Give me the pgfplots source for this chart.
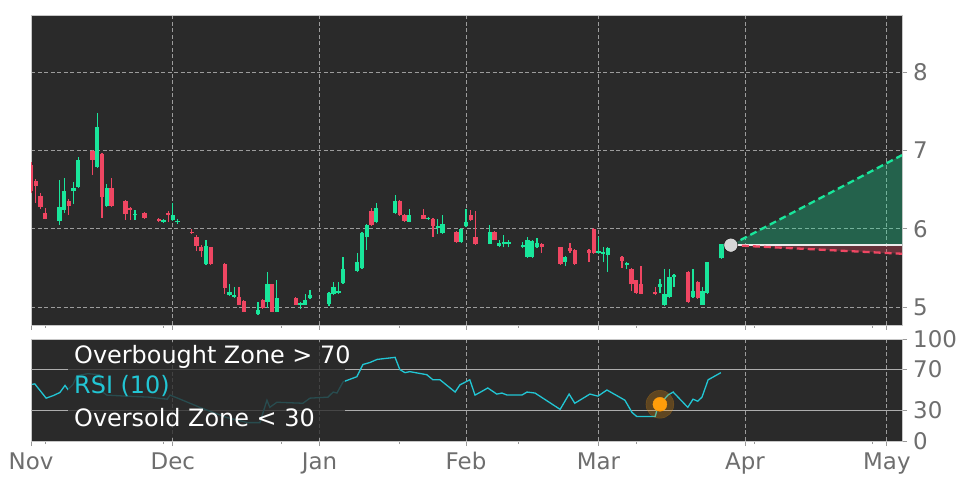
\documentclass[border=0pt]{standalone}
\usepackage{pgfplots}
\pgfplotsset{compat=1.18}
\usepackage{pgfplotstable}
\usepackage{fontspec}
\setmainfont{DejaVu Sans}

\definecolor{bgc}{HTML}{2A2A2A}
\definecolor{upc}{HTML}{19E69B}
\definecolor{dnc}{HTML}{EF4662}
\definecolor{tickc}{HTML}{6E6E6E}
\definecolor{gridc}{HTML}{9C9C9C}
\definecolor{rsic}{HTML}{22C6D4}
\definecolor{orc}{HTML}{FF9D0A}

% day 0 = 1 Nov; columns: day open high low close
\pgfplotstableread{
d o h l c
6 6.10 6.62 6.05 6.28
7 6.24 6.65 6.20 6.48
9 6.48 6.60 6.32 6.52
10 6.53 6.92 6.52 6.88
14 6.79 7.48 6.78 7.30
16 6.29 6.57 6.28 6.52
22 6.17 6.24 6.11 6.19
28 6.09 6.12 6.07 6.11
30 6.11 6.33 6.10 6.18
31 6.08 6.12 6.06 6.09
37 5.55 5.85 5.54 5.78
42 5.15 5.30 5.14 5.19
43 5.13 5.25 5.12 5.14
48 4.91 5.06 4.90 4.96
50 5.07 5.45 4.99 5.29
52 4.94 5.34 4.93 5.12
57 5.03 5.07 4.97 5.04
58 5.03 5.16 5.02 5.09
59 5.11 5.22 5.10 5.15
63 5.04 5.19 5.01 5.18
64 5.16 5.32 5.15 5.26
65 5.18 5.32 5.17 5.21
66 5.31 5.64 5.30 5.48
69 5.46 5.69 5.45 5.58
70 5.50 5.96 5.49 5.95
71 5.90 6.06 5.73 6.05
73 6.08 6.33 6.07 6.27
77 6.20 6.43 6.19 6.36
80 6.09 6.25 6.08 6.18
84 6.12 6.15 6.11 6.14
86 6.01 6.12 5.93 6.03
87 5.94 6.18 5.93 6.06
91 5.83 6.01 5.82 6.00
92 6.03 6.25 6.02 6.08
97 5.81 6.05 5.80 5.96
99 5.78 5.85 5.77 5.82
100 5.81 5.92 5.76 5.83
101 5.81 5.85 5.76 5.82
104 5.77 5.83 5.75 5.79
105 5.64 5.90 5.63 5.85
106 5.64 5.85 5.63 5.84
107 5.76 5.88 5.75 5.82
113 5.58 5.65 5.52 5.64
120 5.69 5.89 5.68 5.72
121 5.68 5.77 5.57 5.70
122 5.67 5.76 5.45 5.75
126 5.54 5.57 5.48 5.56
133 5.25 5.36 5.18 5.30
134 5.02 5.48 5.01 5.17
135 5.13 5.48 5.12 5.38
136 5.38 5.42 5.26 5.41
140 5.13 5.48 5.12 5.20
142 5.03 5.25 5.02 5.20
143 5.18 5.58 5.17 5.57
146 5.62 5.81 5.61 5.80
}\upcandles

\pgfplotstableread{
d o h l c
0 6.82 6.85 6.45 6.48
1 6.61 6.63 6.33 6.55
2 6.42 6.45 6.25 6.28
3 6.20 6.27 6.12 6.13
8 6.36 6.38 6.18 6.29
13 6.99 7.00 6.69 6.88
15 6.96 6.97 6.14 6.40
17 6.52 6.65 6.28 6.29
20 6.36 6.37 6.11 6.19
21 6.27 6.28 6.11 6.24
24 6.20 6.21 6.13 6.14
27 6.12 6.14 6.08 6.10
29 6.20 6.22 6.08 6.18
34 5.96 5.99 5.93 5.94
35 5.90 5.92 5.71 5.78
36 5.77 5.79 5.64 5.71
38 5.76 5.77 5.54 5.55
41 5.55 5.56 5.17 5.24
44 5.13 5.25 5.02 5.03
45 5.08 5.09 4.93 4.94
49 5.09 5.10 4.98 4.99
51 5.29 5.30 4.93 4.94
56 5.12 5.13 5.02 5.03
72 6.22 6.27 6.04 6.05
78 6.36 6.37 6.16 6.17
79 6.18 6.19 6.09 6.10
83 6.18 6.25 6.12 6.13
85 6.13 6.14 5.90 6.03
90 5.96 5.97 5.82 5.83
93 6.18 6.24 6.10 6.11
94 5.90 6.22 5.79 5.80
98 5.96 5.97 5.85 5.86
108 5.81 5.82 5.69 5.76
112 5.76 5.77 5.54 5.55
114 5.75 5.82 5.69 5.72
115 5.73 5.74 5.54 5.55
118 5.73 5.74 5.57 5.69
119 6.00 6.01 5.68 5.69
125 5.64 5.65 5.50 5.59
127 5.49 5.50 5.20 5.29
128 5.34 5.35 5.17 5.18
129 5.29 5.52 5.16 5.17
132 5.19 5.26 5.15 5.16
139 5.45 5.46 5.05 5.06
141 5.32 5.33 5.10 5.11
}\downcandles

\pgfplotstableread{
d r
0.2 55.5
0.8 56
3.2 42
4.7 44.5
6.1 47.5
7.2 54.5
7.8 50.5
8.9 55.5
9.7 64
12 66
14.5 65
15.2 48
16 45
20 44
25 43
28.8 41
29.4 45
30.5 43
35.7 33
41.4 23
45.9 18
48.4 18
49.9 40
50.5 33
52 38
57.5 37
59 42
62.8 43
63.9 48
64.7 47
66 58
68.9 63
70.2 75
71.7 77
73.2 80
77 82
78 70
79.1 67
80.1 68
83.7 65
85 60
86.5 60
89.7 48
90.7 55
92.8 60
93.9 45
94.9 47.5
96.6 52
98.5 46
99.6 47
100.7 45
103.8 45
104.9 48
106.6 47
111.9 31
113.8 46
115 37
118.2 46
119.9 44
121.8 50
125.6 40
127.1 28
128.1 24
132 24
132.6 34
134.7 45
135.8 48
138.9 33
140 41
141 39
141.9 43
143.2 60
145.9 67
}\rsi

\pgfplotsset{
  panel/.style={
    scale only axis,
    anchor=south west,
    width=871bp,
    xmin=0, xmax=184.2,
    axis background/.style={fill=bgc},
    axis line style={draw=white!78!black, line width=0.8bp},
    tick align=outside,
    tick style={draw=tickc!70!white, line width=0.8bp},
    major tick length=5bp,
    minor tick length=3bp,
    xtick={0,30,61,92,120,151,181},
    minor xtick={3,28,53,78,103,128,153,178},
    xmajorgrids=true,
    major grid style={draw=gridc, line width=0.8bp, dash pattern=on 4bp off 2.5bp},
    yticklabel pos=right,
    ytick pos=right,
    xtick pos=bottom,
    ticklabel style={font=\fontsize{23}{23}\selectfont, text=tickc},
    /pgf/number format/assume math mode=true,
    yticklabel style={anchor=west, inner sep=0pt, xshift=6bp},
    clip=true,
  },
  candle/.style 2 args={only marks, mark=*, mark size=0pt,
    mark options={draw=none, fill=none},
    error bars/.cd, y dir=plus, y explicit, error mark=none,
    error bar style={draw=#1, line width=#2}},
}

\begin{document}
\begin{tikzpicture}
\useasboundingbox (0,0) rectangle (972bp,486bp);
\fill[white] (0,0) rectangle (972bp,486bp);

% price panel
\begin{axis}[panel,
  at={(31bp,161bp)},
  height=310bp,
  ymin=4.77, ymax=8.73,
  ytick={5,6,7,8},
  ymajorgrids=true,
  xticklabels={},
]
% wicks
\addplot[candle={upc}{1.2bp}]
  table[x=d, y=l, y error plus expr=\thisrow{h}-\thisrow{l}] \upcandles;
\addplot[candle={dnc}{1.2bp}]
  table[x=d, y=l, y error plus expr=\thisrow{h}-\thisrow{l}] \downcandles;
% bodies
\addplot[candle={upc}{4.3bp}]
  table[x=d, y=o, y error plus expr={max(\thisrow{c}-\thisrow{o},0.02)}] \upcandles;
\addplot[candle={dnc}{4.3bp}]
  table[x=d, y=c, y error plus expr={max(\thisrow{o}-\thisrow{c},0.02)}] \downcandles;

% projection cone
\addplot[draw=none, fill=upc, fill opacity=0.3] coordinates {(148,5.79) (184.2,6.94) (184.2,5.79)} -- cycle;
\addplot[draw=none, fill=dnc, fill opacity=0.3] coordinates {(148,5.79) (184.2,5.79) (184.2,5.68)} -- cycle;
\addplot[draw=white!92!black, line width=2.6bp] coordinates {(148,5.79) (184.2,5.79)};
\addplot[draw=upc, line width=2.3bp, dash pattern=on 7bp off 4bp] coordinates {(148,5.79) (184.2,6.94)};
\addplot[draw=dnc, line width=2.3bp, dash pattern=on 7bp off 4bp] coordinates {(148,5.79) (184.2,5.68)};
\addplot[only marks, mark=*, mark size=7bp, mark options={fill=white!84!black, draw=none}] coordinates {(148,5.79)};
\end{axis}

% RSI panel
\begin{axis}[panel,
  at={(31bp,45bp)},
  height=102bp,
  ymin=0, ymax=100,
  ytick={0,30,70,100},
  xticklabels={Nov,Dec,Jan,Feb,Mar,Apr,May},
  xticklabel style={anchor=north, inner sep=0pt, text height=17bp, text depth=5bp, yshift=-6bp},
]
\addplot[draw=white!68!black, line width=1.6bp] coordinates {(0,30) (184.2,30)};
\addplot[draw=white!68!black, line width=1.6bp] coordinates {(0,70) (184.2,70)};
\addplot[draw=rsic, line width=1.3bp] table[x=d, y=r] \rsi;
\fill[bgc, opacity=0.78] (rel axis cs:0.0425,0.03) rectangle (rel axis cs:0.36,0.97);
\addplot[only marks, mark=*, mark size=14bp, color=orc, opacity=0.25, mark options={draw=none}] coordinates {(133,36)};
\addplot[only marks, mark=*, mark size=7bp, color=orc, mark options={draw=none, fill=orc}] coordinates {(133,36)};
\node[anchor=base west, inner sep=0pt, text=white, font=\fontsize{24}{24}\selectfont] at (rel axis cs:0.0494,0.755) {Overbought Zone > 70};
\node[anchor=base west, inner sep=0pt, text=rsic, font=\fontsize{24}{24}\selectfont] at (rel axis cs:0.0494,0.461) {RSI (10)};
\node[anchor=base west, inner sep=0pt, text=white, font=\fontsize{24}{24}\selectfont] at (rel axis cs:0.0494,0.147) {Oversold Zone < 30};
\end{axis}
\end{tikzpicture}
\end{document}
